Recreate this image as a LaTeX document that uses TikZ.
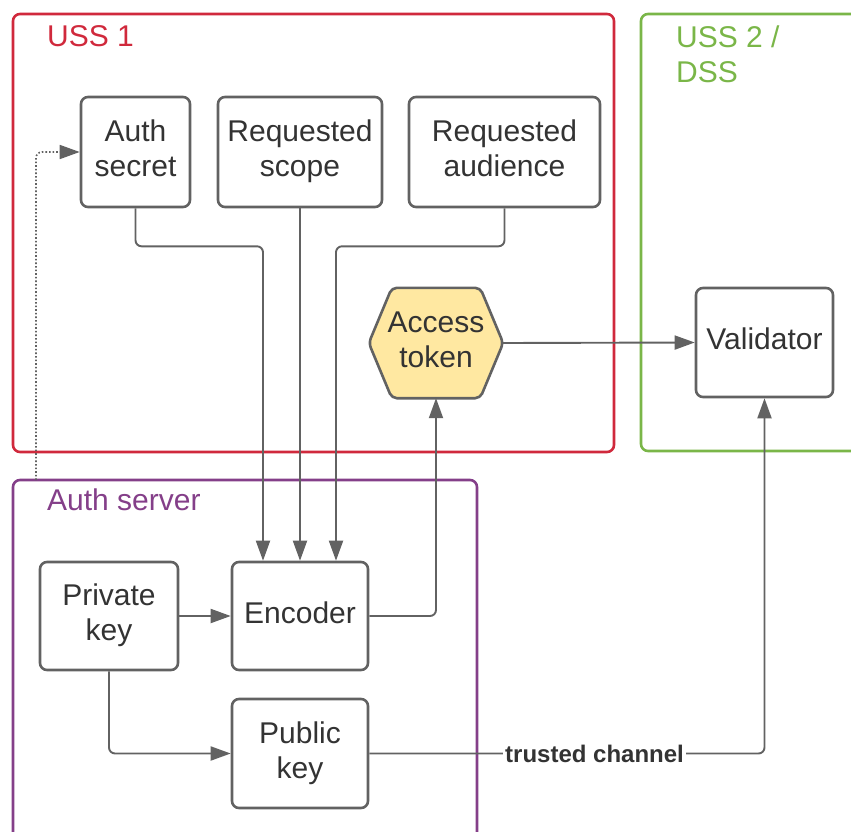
\documentclass[tikz,border=0pt]{standalone}
\usepackage{fontspec}
\setmainfont{Liberation Sans}
\usetikzlibrary{arrows.meta,backgrounds}
\definecolor{linegray}{HTML}{626262}
\definecolor{textgray}{HTML}{333333}
\definecolor{ussred}{HTML}{D0293C}
\definecolor{ussgreen}{HTML}{7AB648}
\definecolor{authpurple}{HTML}{843F89}
\definecolor{tokenfill}{HTML}{FFE8A1}
% centred lines, lifted a little above the box centre
\newcommand{\liftedlines}[1]{\raise3pt\hbox{\begin{tabular}{@{}c@{}}#1\end{tabular}}}
\tikzset{
  container/.style={line width=2.6pt, rounded corners=7pt},
  grouplabel/.style={inner sep=0pt, anchor=west, align=left, font=\fontsize{30}{35}\selectfont},
  boxtext/.style={text=textgray, font=\fontsize{30}{35}\selectfont, inner sep=0pt},
  box/.style={boxtext, draw=linegray, line width=2.6pt, rounded corners=7pt},
  conn/.style={draw=linegray, line width=1.9pt, rounded corners=6pt,
    -{Triangle[length=20pt,width=14pt]}},
  dotconn/.style={draw=linegray, line width=1.6pt, dotted, rounded corners=6pt,
    -{Triangle[length=20pt,width=14pt]}},
  chanlabel/.style={fill=white, inner xsep=2pt, inner ysep=1pt, text=textgray,
    font=\bfseries\fontsize{24}{28}\selectfont},
}
\begin{document}
\begin{tikzpicture}[x=1pt,y=-1pt]
\useasboundingbox (0,0) rectangle (851,832);

% group frames
\draw[container, draw=ussred] (13,14) rectangle (614,452);
\draw[container, draw=ussgreen] (641,14) rectangle (870,451);
\draw[container, draw=authpurple] (13,480) rectangle (477,860);
\node[grouplabel, text=ussred] (lblussone) at (47,36) {USS 1};
\node[grouplabel, text=ussgreen] (lblusstwo) at (676,54) {USS 2 /\\DSS};
\node[grouplabel, text=authpurple] (lblauth) at (47,500) {Auth server};

% USS 1 inputs
\node[box, minimum width=109pt, minimum height=110pt] (secret) at (135.5,152) {\liftedlines{Auth\\secret}};
\node[box, minimum width=164pt, minimum height=110pt] (scope) at (300,152) {\liftedlines{Requested\\scope}};
\node[box, minimum width=191pt, minimum height=110pt] (aud) at (504.5,152) {\liftedlines{Requested\\audience}};

% access token hexagon
\node[minimum width=134pt, minimum height=110pt, inner sep=0pt] (token) at (436,343) {};
\begin{scope}[on background layer]
\draw[draw=linegray, fill=tokenfill, line width=2.6pt, rounded corners=5pt]
  (token.west) -- ([xshift=23pt]token.north west) -- ([xshift=-23pt]token.north east)
  -- (token.east) -- ([xshift=-23pt]token.south east) -- ([xshift=23pt]token.south west) -- cycle;
\end{scope}
\node[boxtext] (tokentext) at (token.center) {\liftedlines{Access\\token}};

% USS 2 / DSS
\node[box, minimum width=137pt, minimum height=109pt] (val) at (764.5,342.5) {\liftedlines{Validator}};

% auth server
\node[box, minimum width=138pt, minimum height=108pt] (priv) at (109,616) {\liftedlines{Private\\key}};
\node[box, minimum width=136pt, minimum height=108pt] (enc) at (300,616) {\liftedlines{Encoder}};
\node[box, minimum width=136pt, minimum height=109pt] (pub) at (300,753.5) {\liftedlines{Public\\key}};

% connectors
\coordinate (dotstart) at (36,480);
\draw[dotconn] (dotstart) |- (secret.west);
\draw[conn] (secret.south) -- ++(0,38) -| ([xshift=-37pt]enc.north);
\draw[conn] (scope.south) -- (enc.north);
\draw[conn] (aud.south) -- ++(0,38) -| ([xshift=36pt]enc.north);
\draw[conn] (enc.east) -| (token.south);
\draw[conn] (token.east) -- (val.west);
\draw[conn] (priv.east) -- (enc.west);
\draw[conn] (priv.south) |- (pub.west);
\draw[conn] (pub.east) -- node[chanlabel, pos=0.57] (chan) {trusted channel} (pub.east -| val.south) -- (val.south);
\end{tikzpicture}
\end{document}
